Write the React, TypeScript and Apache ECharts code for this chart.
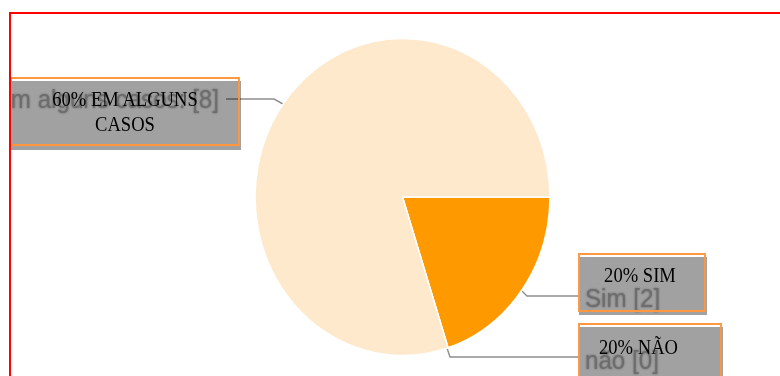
import React, { useEffect, useRef } from "react";
import * as echarts from "echarts";

// ---- data ----
const categories = ["Sim", "não", "Em alguns casos"];
const values = [2, 0, 8];
const sliceLabels = ["Sim [2]", "não [0]", "Em alguns casos: [8]"];
const boxLabels = ["20% SIM", "20% NÃO", "60% EM ALGUNS\nCASOS"];

// ---- styles / layout ----
const sliceColors = ["#ff9900", "#dc3912", "#ffe9cc"];
const S = 0.93; // horizontal compression of the picture
const W = Math.round(780 / S);
const X = (x: number) => x / S;

const layout = [
  {
    box: { x: 579, y: 254, w: 126, h: 57 },
    shade: { x: 579, y: 257, w: 128, h: 58 },
    text: { x: 640, y: 275.5 },
    tag: { x: 585, y: 298, align: "left" },
    line: [[522, 291], [527, 296], [580, 296]],
  },
  {
    box: { x: 579, y: 324, w: 142, h: 60 },
    shade: { x: 579, y: 327, w: 144, h: 60 },
    text: { x: 638.5, y: 347 },
    tag: { x: 585, y: 360, align: "left" },
    line: [[447, 348], [450, 357], [580, 357]],
  },
  {
    box: { x: 11, y: 78, w: 228, h: 67 },
    shade: { x: 11, y: 81, w: 230, h: 69 },
    text: { x: 125, y: 111.5 },
    tag: { x: 219, y: 99, align: "right" },
    line: [[226, 99], [274, 99], [283, 104]],
  },
];

export default function App() {
  const ref = useRef<HTMLDivElement>(null);

  useEffect(() => {
    if (!ref.current) return;
    const chart = echarts.init(ref.current, null, { renderer: "svg" });

    const graphics: any[] = [];
    layout.forEach((l, i) => {
      graphics.push({
        type: "polyline",
        z: 1,
        silent: true,
        shape: { points: l.line.map(([x, y]) => [X(x), y]) },
        style: { stroke: "#8f8f8f", lineWidth: 1.5, fill: null },
      });
      graphics.push({
        type: "text",
        z: 1,
        silent: true,
        style: {
          text: sliceLabels[i],
          x: X(l.tag.x),
          y: l.tag.y,
          align: l.tag.align,
          verticalAlign: "middle",
          font: '26px "Liberation Sans", Arial, sans-serif',
          fill: "#adadad",
          textShadowColor: "rgba(150,150,150,0.8)",
          textShadowBlur: 2,
        },
      });
      graphics.push({
        type: "rect",
        z: 2,
        silent: true,
        shape: { x: X(l.shade.x), y: l.shade.y, width: l.shade.w / S, height: l.shade.h },
        style: { fill: "rgba(0,0,0,0.37)" },
      });
      graphics.push({
        type: "rect",
        z: 3,
        silent: true,
        shape: { x: X(l.box.x), y: l.box.y, width: l.box.w / S, height: l.box.h },
        style: { fill: null, stroke: "#ff9640", lineWidth: 2 },
      });
      graphics.push({
        type: "text",
        z: 4,
        silent: true,
        style: {
          text: boxLabels[i],
          x: X(l.text.x),
          y: l.text.y,
          align: "center",
          verticalAlign: "middle",
          lineHeight: 25,
          font: '20px "Liberation Serif", "Times New Roman", serif',
          fill: "#000",
        },
      });
    });

    chart.setOption({
      animation: false,
      backgroundColor: "transparent",
      graphic: graphics,
      series: [
        {
          type: "pie",
          center: [X(402.5), 197],
          radius: 158.5,
          startAngle: 0,
          clockwise: true,
          silent: true,
          label: { show: false },
          labelLine: { show: false },
          itemStyle: { borderColor: "#ffffff", borderWidth: 1.5 },
          emphasis: { disabled: true },
          data: categories.map((c, i) => ({
            name: c,
            value: values[i],
            itemStyle: { color: sliceColors[i] },
          })),
        },
      ],
    });

    return () => chart.dispose();
  }, []);

  return (
    <div
      style={{
        position: "fixed",
        left: 0,
        top: 0,
        width: 780,
        height: 376,
        overflow: "hidden",
        background: "#fff",
      }}
    >
      <div
        style={{
          position: "absolute",
          left: 9,
          top: 12,
          right: -10,
          bottom: -10,
          borderTop: "2px solid #ff0000",
          borderLeft: "2px solid #ff0000",
          overflow: "hidden",
        }}
      >
        <div
          ref={ref}
          style={{
            position: "absolute",
            left: -11,
            top: -14,
            width: W,
            height: 376,
            transform: `scaleX(${S})`,
            transformOrigin: "0 0",
          }}
        />
      </div>
    </div>
  );
}
